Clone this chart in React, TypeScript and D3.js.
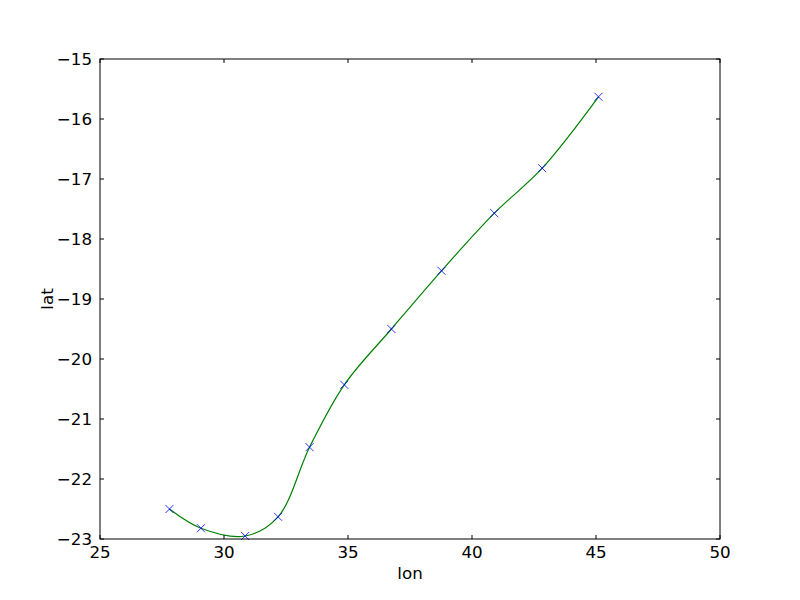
import React from "react";
import * as d3 from "d3";

const lon = [27.8, 29.07, 30.85, 32.18, 33.45, 34.85, 36.75, 38.77, 40.9, 42.83, 45.1];
const lat = [-22.5, -22.82, -22.95, -22.63, -21.47, -20.43, -19.5, -18.53, -17.57, -16.82, -15.63];
const xTicks = [25, 30, 35, 40, 45, 50];
const yTicks = [-23, -22, -21, -20, -19, -18, -17, -16, -15];

const W = 800, H = 600;
const L = 100, R = 720, T = 59, B = 539;
const FS = 16.7;
const FONT = "DejaVu Sans, sans-serif";

export default function App() {
  const x = d3.scaleLinear().domain([25, 50]).range([L, R]);
  const y = d3.scaleLinear().domain([-23, -15]).range([B, T]);
  const pts: [number, number][] = lon.map((v, i) => [x(v), y(lat[i])]);
  const line = d3.line().curve(d3.curveCatmullRom.alpha(0.5))(pts) || "";
  const fmt = (v: number) => (v < 0 ? "\u2212" + Math.abs(v) : String(v));
  return (
    <svg width={W} height={H} style={{ position: "absolute", left: 0, top: 0, background: "#fff" }}>
      <rect x={0} y={0} width={W} height={H} fill="#fff" />
      <rect x={L} y={T} width={R - L} height={B - T} fill="#fff" stroke="none" />
      <path d={line} fill="none" stroke="#008000" strokeWidth={1.2} />
      {pts.map(([px, py], i) => (
        <g key={i} stroke="#0000ff" strokeWidth={0.8}>
          <line x1={px - 4} y1={py - 4} x2={px + 4} y2={py + 4} />
          <line x1={px - 4} y1={py + 4} x2={px + 4} y2={py - 4} />
        </g>
      ))}
      <rect x={L} y={T} width={R - L} height={B - T} fill="none" stroke="#000" strokeWidth={1} />
      {xTicks.map((t) => (
        <g key={"x" + t}>
          <line x1={x(t)} x2={x(t)} y1={B} y2={B - 4} stroke="#000" />
          <line x1={x(t)} x2={x(t)} y1={T} y2={T + 4} stroke="#000" />
          <text x={x(t)} y={B + 19} fontSize={FS} fontFamily={FONT} textAnchor="middle">{fmt(t)}</text>
        </g>
      ))}
      {yTicks.map((t) => (
        <g key={"y" + t}>
          <line x1={L} x2={L + 4} y1={y(t)} y2={y(t)} stroke="#000" />
          <line x1={R} x2={R - 4} y1={y(t)} y2={y(t)} stroke="#000" />
          <text x={L - 8} y={y(t) + 6} fontSize={FS} fontFamily={FONT} textAnchor="end">{fmt(t)}</text>
        </g>
      ))}
      <text x={(L + R) / 2} y={579} fontSize={FS} fontFamily={FONT} textAnchor="middle">lon</text>
      <text transform={`translate(53,${(T + B) / 2}) rotate(-90)`} fontSize={FS} fontFamily={FONT} textAnchor="middle">lat</text>
    </svg>
  );
}
